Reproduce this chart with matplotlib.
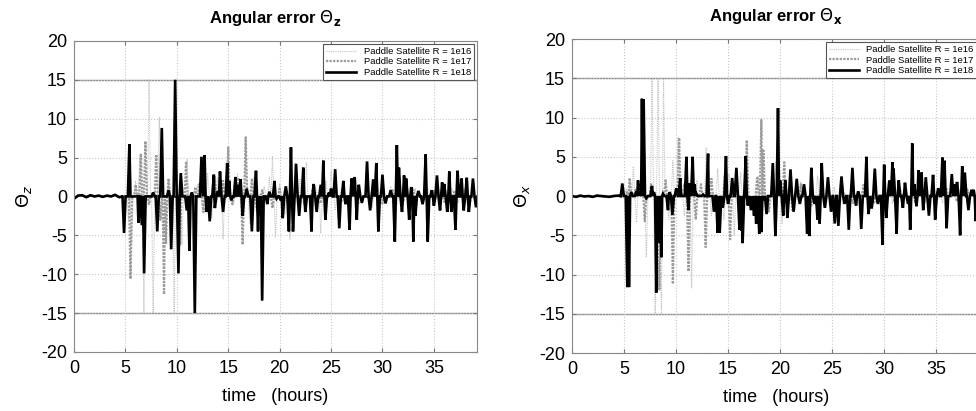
import numpy as np
import matplotlib.pyplot as plt

plt.rcParams['font.family'] = ['Liberation Sans', 'DejaVu Sans']
plt.rcParams['mathtext.fontset'] = 'dejavusans'
plt.rcParams['axes.unicode_minus'] = False

# quiet start (both panels), hours / degrees
calm_t = [0.0, 0.4, 0.8, 1.2, 1.6, 2.0, 2.4, 2.8, 3.2, 3.6, 4.0, 4.4, 4.8]
calm_z = [-0.3, 0.1, 0.15, -0.1, 0.15, 0.0, 0.1, -0.05, 0.1, 0.0, 0.2, -0.1, 0.0]
calm_x = [0.0, -0.1, 0.05, -0.05, 0.0, -0.1, 0.05, 0.0, -0.05, -0.1, 0.0, 0.05, 0.0]

# ---- Theta_z panel ----
z16_t = [5.3, 5.6, 6.0, 6.4, 6.8, 7.3, 7.7, 8.3, 8.7, 9.2, 9.74, 10.0, 10.5, 11.0, 11.3,
         12.0, 12.5, 13.0, 13.4, 14.0, 14.5, 15.0, 15.5, 15.9, 16.3, 16.7, 17.1, 17.5,
         18.0, 18.5, 19.0, 19.3, 19.6, 20.0, 20.5, 21.0, 21.5, 22.0, 22.6, 23.0, 23.5,
         24.0, 24.5, 25.0, 25.4, 26.0, 26.6, 27.2, 27.8, 28.4, 29.0, 29.6, 30.2, 30.8,
         31.4, 32.0, 32.6, 33.2, 33.8, 34.4, 35.0, 35.6, 36.2, 36.8, 37.4, 38.0, 38.6]
z16_v = [-3.0, -6.0, 2.0, 5.0, -15.0, 15.0, -15.0, 10.2, -5.0, 2.0, -15.0, 2.0, -6.2, 4.8, -2.0,
         1.5, -2.0, 3.0, -2.8, 2.5, -5.5, 6.3, -1.0, 3.0, -2.7, 7.6, -3.5, 2.5,
         -1.5, 1.3, 2.5, 5.2, -5.3, 1.6, -2.3, -5.5, 4.3, 2.2, 4.3, -1.5, 1.5,
         -4.7, 2.0, 3.3, -1.8, 1.0, -1.2, 1.4, -1.0, 1.2, -1.5, 1.0, -0.8, 1.3,
         -1.0, 0.8, -1.2, 1.0, -0.7, 1.1, -0.9, 0.8, -1.0, 0.9, -0.8, 1.0, -0.6]

z17_t = [5.0, 5.5, 6.0, 6.5, 6.95, 7.3, 8.0, 8.4, 8.76, 8.95, 9.2, 10.3, 10.9, 11.3, 11.8,
         12.2, 12.6, 13.2, 13.7, 14.5, 15.0, 15.4, 16.0, 16.4, 16.7, 17.3, 17.8, 18.3,
         19.3, 20.0, 20.8, 21.6, 22.4, 23.2, 24.0, 25.0, 26.0, 27.0, 28.0, 29.0, 30.0,
         31.0, 32.0, 33.0, 34.0, 35.0, 36.0, 37.0, 38.0]
z17_v = [0.0, -10.6, 1.5, 5.5, 7.1, -1.0, 5.4, -3.0, -12.6, -6.0, 2.3, -6.2, 4.5, -1.0, 1.2,
         1.6, -2.0, -2.8, 2.5, 2.0, 6.3, -1.0, 2.4, -6.2, 7.6, 2.3, -2.0, 0.8,
         -1.5, 1.0, -0.8, 1.2, -1.0, 0.8, -0.9, 1.0, -0.7, 0.9, -0.8, 0.7, -0.9,
         0.8, -0.7, 0.9, -0.6, 0.8, -0.7, 0.6, -0.5]

z18_t = [4.87, 5.39, 5.6, 6.1, 6.27, 6.6, 6.82, 7.3, 7.7, 8.1, 8.54, 8.8, 9.2, 9.45, 9.84,
         10.16, 10.39, 10.97, 11.23, 11.45, 11.75, 12.4, 12.7, 12.9, 13.2, 13.6, 13.7, 14.0,
         14.2, 14.5, 14.9, 15.1, 15.3, 15.7, 15.9, 16.2, 16.4, 16.8, 17.3, 17.7, 17.9,
         18.05, 18.3, 18.8, 19.0, 19.5, 19.7, 20.1, 20.3, 20.6, 20.9, 21.1, 21.3, 21.6,
         21.9, 22.3, 22.5, 23.1, 23.3, 23.6, 24.0, 24.25, 24.45, 24.8, 25.0, 25.4, 25.8,
         26.2, 26.4, 26.8, 27.0, 27.3, 27.5, 27.7, 28.0, 28.5, 28.8, 29.1, 29.4, 29.6,
         30.0, 30.3, 30.8, 31.2, 31.4, 31.6, 31.9, 32.1, 32.3, 32.6, 32.8, 33.0, 33.2,
         33.5, 33.9, 34.2, 34.4, 34.8, 35.0, 35.3, 35.6, 35.8, 36.0, 36.3, 36.5, 36.7,
         37.1, 37.3, 37.7, 37.9, 38.2, 38.4, 38.8, 39.1]
z18_v = [-4.7, 6.7, 0.0, 0.0, -3.4, -3.7, -9.9, 0.0, 0.5, -4.5, 8.8, 0.0, 0.8, -6.8, 15.0,
         -9.9, 3.0, -1.8, -7.0, 0.5, -15.0, 5.1, 5.3, -2.0, -3.2, 2.8, -1.5, 0.7,
         3.2, -2.0, 4.3, 2.0, -0.5, 2.5, 1.5, 2.2, -2.5, 1.0, -4.5, 3.3, -4.5,
         -2.0, -13.4, -1.0, 0.6, 2.0, -0.3, -0.5, -2.8, 1.3, -4.5, 6.3, -4.5, 4.2,
         -2.5, 3.7, -2.0, -4.5, 1.6, -2.0, 1.5, 4.6, -3.0, 0.5, 1.0, 3.5, -4.1,
         2.0, -1.0, -4.3, 2.3, 2.5, -3.0, 1.5, -0.8, 4.5, -1.8, 2.2, 4.3, -4.5,
         2.8, -0.9, 0.8, -5.8, 6.6, 3.7, -2.0, 2.7, 2.3, -3.0, 1.2, -5.8, -2.5,
         0.7, -1.0, 5.4, -5.8, 0.8, -1.2, 2.7, -1.8, 1.8, 1.6, -2.0, 3.2, -2.0,
         -4.3, 3.3, 2.3, -1.8, 2.4, -2.0, 2.3, -1.4]

# ---- Theta_x panel ----
x16_t = [5.2, 5.6, 5.9, 6.2, 6.6, 7.15, 7.7, 8.0, 8.27, 8.6, 8.8, 9.3, 9.7, 10.2, 10.8,
         11.5, 12.0, 12.9, 13.4, 14.0, 14.6, 15.1, 15.6, 16.2, 16.8, 17.3, 17.9, 18.4,
         19.0, 19.6, 20.2, 20.6, 21.2, 22.0, 22.8, 23.6, 24.4, 25.2, 26.0, 26.8, 27.6,
         28.4, 29.2, 30.0, 30.8, 31.6, 32.4, 33.2, 34.0, 34.8, 35.6, 36.4, 37.2, 38.0, 38.8]
x16_v = [1.0, 2.2, 3.8, -3.3, 2.0, -7.8, 15.0, -15.0, 15.0, -15.0, 15.0, -3.0, 4.5, 7.5, -2.5,
         -11.7, 2.0, 6.2, -2.5, 3.5, -3.0, 2.8, -5.0, 3.0, 7.1, -1.8, 2.5, 5.5,
         -2.0, 4.3, -3.5, 2.0, -1.5, 1.8, -1.2, 2.6, -1.5, 1.2, -1.0, 1.5, -1.2,
         1.0, -0.8, 1.3, -1.0, 0.9, -1.1, 1.0, -0.8, 1.2, -0.9, 0.8, -1.0, 0.9, -0.7]

x17_t = [5.3, 5.55, 6.1, 7.0, 7.6, 8.4, 9.0, 9.7, 10.3, 10.8, 11.2, 11.6, 11.9, 12.4, 12.85,
         13.4, 14.1, 14.7, 15.2, 15.8, 16.3, 16.8, 17.3, 17.8, 18.2, 18.4, 18.9, 19.4,
         20.4, 21.2, 22.0, 23.0, 24.0, 25.0, 26.0, 27.0, 28.0, 29.0, 30.0, 31.0, 32.0,
         33.0, 34.0, 35.0, 36.0, 37.0, 38.0]
x17_v = [0.5, 2.3, 0.8, -3.2, 1.5, -12.0, 2.0, -11.2, 7.4, 1.5, -9.6, 4.0, -3.0, 1.5, -6.5,
         2.2, -2.0, 2.6, -5.5, 3.3, -2.0, 7.1, -1.5, 2.5, 9.7, 5.8, -2.0, 1.5,
         4.3, -1.8, 1.5, -1.2, 1.6, -1.0, 1.2, -0.9, 1.4, -1.0, 0.9, -0.8, 1.1,
         -0.9, 0.8, -1.0, 0.9, -0.7, 0.8]

x18_t = [4.84, 5.32, 5.48, 5.7, 6.19, 6.35, 6.57, 6.73, 6.89, 7.15, 7.69, 7.88, 8.1, 8.27,
         8.43, 8.59, 8.75, 9.23, 9.39, 9.65, 10.03, 10.4, 10.6, 11.0, 11.2, 11.3, 11.6,
         11.8, 11.95, 12.6, 13.08, 13.2, 13.65, 14.0, 14.2, 14.5, 14.8, 15.0, 15.4, 15.8,
         16.1, 16.3, 16.4, 16.7, 16.9, 17.2, 17.5, 17.7, 18.0, 18.2, 18.4, 18.7, 19.3,
         19.55, 19.8, 20.0, 20.3, 20.5, 20.7, 21.0, 21.3, 21.6, 21.9, 22.3, 22.6, 22.8,
         23.0, 23.3, 23.6, 23.8, 24.0, 24.3, 24.6, 24.9, 25.25, 25.6, 25.9, 26.2, 26.6,
         26.95, 27.3, 27.5, 27.8, 28.3, 28.5, 28.8, 29.1, 29.4, 29.84, 30.0, 30.2, 30.5,
         30.8, 30.9, 31.2, 31.4, 31.8, 32.0, 32.3, 32.5, 32.7, 32.9, 33.1, 33.3, 33.6,
         33.75, 34.0, 34.3, 34.7, 34.9, 35.2, 35.6, 35.8, 36.0, 36.5, 36.8, 37.0, 37.3,
         37.5, 37.75, 38.1, 38.4, 38.6, 38.8, 39.1]
x18_v = [1.6, -11.6, -11.6, 0.5, 0.6, 2.0, 1.5, 12.4, 12.3, -0.3, 1.3, 0.5, -12.3, -5.5,
         -6.0, -7.8, 0.3, -1.8, 0.5, -2.4, 1.0, 2.3, 0.0, 5.0, -1.8, 1.6, 5.0,
         1.5, 0.3, 0.2, 5.4, 0.0, -2.0, -4.7, -4.7, -1.5, 5.1, -1.0, 2.3, 3.6,
         -4.3, -4.4, -6.0, 5.1, -1.2, -1.8, -2.5, -3.5, -4.8, -4.6, -0.5, -2.3, 4.2,
         -5.1, 11.2, 2.0, -2.5, 2.0, -2.8, 3.4, -2.0, 2.2, -1.0, 1.5, -4.8, -5.1,
         3.6, -1.0, -3.0, -3.5, 4.2, -1.5, 2.4, -2.0, -3.5, -3.8, 2.5, -1.0, -4.3,
         3.6, -1.2, 0.6, -4.2, 5.0, -2.3, -1.6, 3.5, -1.0, -6.2, 4.0, -2.8, 2.0,
         4.3, 3.5, -4.8, 2.0, -1.5, 1.7, -1.0, -4.3, 6.7, 1.5, -1.3, 3.3, 3.0,
         -1.8, 2.4, -2.5, 2.7, -3.0, 1.0, 4.9, 4.5, -4.1, 2.8, 1.5, 1.8, -5.0,
         3.8, 3.0, -1.8, 0.8, 0.8, -3.2, 0.5]

labels = ['Paddle Satellite R = 1e16', 'Paddle Satellite R = 1e17', 'Paddle Satellite R = 1e18']


def pulses(calm_v, st, sv, w=0.15):
    """calm start, then each spike is a narrow pulse off the zero line"""
    t = list(calm_t)
    v = list(calm_v)
    for i in range(len(st)):
        prev = st[i - 1] if i > 0 else st[i] - 1.0
        nxt = st[i + 1] if i + 1 < len(st) else st[i] + 1.0
        t += [st[i] - min(w, 0.5 * (st[i] - prev)), st[i], st[i] + min(w, 0.5 * (nxt - st[i]))]
        v += [0.0, sv[i], 0.0]
    return np.array(t), np.array(v)


def draw_panel(ax, calm_v, series, sym):
    styles = [dict(color='#c4c4c4', lw=0.8, ls=(0, (1, 1))),
              dict(color='#9a9a9a', lw=1.6, ls=(0, (1, 0.6))),
              dict(color='black', lw=1.9, ls='-')]
    for (st, sv), lab, sty in zip(series, labels, styles):
        t, v = pulses(calm_v, st, sv)
        ax.plot(t, v, label=lab, solid_joinstyle='miter', **sty)

    ax.axhline(15, color='#8c8c8c', lw=1.0, zorder=0)
    ax.axhline(-15, color='#8c8c8c', lw=1.0, zorder=0)
    ax.set_xlim(0, 39.2)
    ax.set_ylim(-20, 20)
    ax.set_xticks(np.arange(0, 40, 5))
    ax.set_yticks(np.arange(-20, 21, 5))
    ax.grid(True, ls=':', color='#c8c8c8', lw=0.8)
    ax.set_axisbelow(True)
    ax.tick_params(direction='in', top=True, right=True, labelsize=13, length=3,
                   color='#777777')
    ax.tick_params(axis='x', pad=6)
    ax.tick_params(axis='y', pad=5)
    for s in ax.spines.values():
        s.set_color('#888888')
    ax.set_title(r'Angular error $\Theta_\mathbf{%s}$' % sym, fontsize=12,
                 fontweight='bold', pad=13)
    ax.set_xlabel('time   (hours)', fontsize=13, labelpad=8)
    ax.set_ylabel(r'$\Theta_%s$' % sym, fontsize=13, labelpad=5)
    leg = ax.legend(loc='upper right', fontsize=6.8, fancybox=False, framealpha=1,
                    edgecolor='#555555', borderpad=0.3, labelspacing=0.15,
                    handlelength=3.2, handletextpad=0.8, borderaxespad=0.35)
    leg.get_frame().set_linewidth(0.8)


fig = plt.figure(figsize=(9.76, 4.11), dpi=100)
ax1 = fig.add_axes([0.0758, 0.1436, 0.413, 0.757])
ax2 = fig.add_axes([0.586, 0.141, 0.418, 0.764])

draw_panel(ax1, calm_z, [(z16_t, z16_v), (z17_t, z17_v), (z18_t, z18_v)], 'z')
draw_panel(ax2, calm_x, [(x16_t, x16_v), (x17_t, x17_v), (x18_t, x18_v)], 'x')

fig.savefig('out.png', dpi=100)
